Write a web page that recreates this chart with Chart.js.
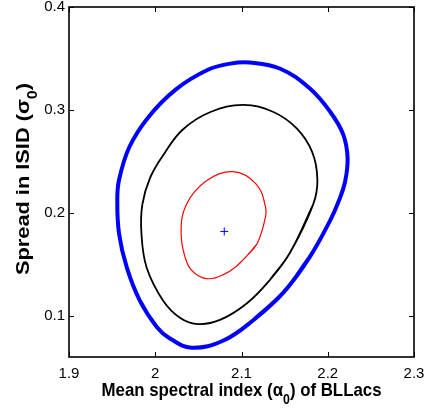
<!DOCTYPE html>
<html>
<head>
<meta charset="utf-8">
<script src="https://cdn.jsdelivr.net/npm/chart.js@4.4.1/dist/chart.umd.min.js"></script>
<style>
html, body { margin: 0; padding: 0; background: #fff; }
</style>
</head>
<body>
<canvas id="contourChart" width="428" height="411"></canvas>
<script>
// contour levels (alpha_0 on x, sigma_0 on y)
// each loop starts and ends on a straight stretch so the join doesn't show
const outerAlpha = [2.149, 2.114, 2.079, 2.042, 2.017, 2.002, 1.982, 1.967, 1.958, 1.956, 1.958, 1.970, 1.992, 2.024, 2.061, 2.087, 2.110, 2.145, 2.179, 2.203, 2.218, 2.223, 2.220, 2.213, 2.203, 2.179, 2.149];
const outerSigma = [0.123, 0.096, 0.076, 0.069, 0.078, 0.089, 0.115, 0.147, 0.180, 0.212, 0.232, 0.264, 0.293, 0.320, 0.339, 0.345, 0.346, 0.340, 0.321, 0.298, 0.276, 0.253, 0.230, 0.212, 0.193, 0.157, 0.123];

const midAlpha = [2.156, 2.133, 2.106, 2.075, 2.050, 2.029, 2.009, 1.990, 1.984, 1.985, 1.994, 2.010, 2.032, 2.064, 2.102, 2.137, 2.164, 2.182, 2.188, 2.183, 2.156];
const midSigma = [0.161, 0.135, 0.112, 0.096, 0.092, 0.098, 0.115, 0.147, 0.180, 0.208, 0.234, 0.257, 0.281, 0.298, 0.305, 0.298, 0.282, 0.259, 0.232, 0.208, 0.161];

const innerAlpha = [2.106, 2.094, 2.079, 2.063, 2.048, 2.037, 2.030, 2.036, 2.059, 2.090, 2.117, 2.128, 2.127, 2.118, 2.106];
const innerSigma = [0.158, 0.148, 0.140, 0.136, 0.140, 0.151, 0.180, 0.208, 0.231, 0.240, 0.228, 0.205, 0.193, 0.170, 0.158];

const bestAlpha = [2.080];
const bestSigma = [0.182];

const xTicks = [1.9, 2.0, 2.1, 2.2, 2.3];
const yTicks = [0.1, 0.2, 0.3, 0.4];

function toPoints(xs, ys) {
    return xs.map((x, i) => ({ x: x, y: ys[i] }));
}

// closed contour: wrap one point on each end so the spline has no corner at the join
function toLoop(xs, ys) {
    const pts = toPoints(xs, ys);
    const n = pts.length;
    return [pts[n - 2]].concat(pts, [pts[1]]);
}

function fmt(v) {
    return String(Math.round(v * 10) / 10);
}

// draws "before" + subscript + "after", centred at the current origin
function drawSubText(ctx, before, sub, after, size, targetWidth) {
    const mainFont = 'bold ' + size + 'px "Liberation Sans", Arial, sans-serif';
    const subFont = 'bold ' + Math.round(size * 0.72) + 'px "Liberation Sans", Arial, sans-serif';
    ctx.font = mainFont;
    const w1 = ctx.measureText(before).width;
    const w3 = ctx.measureText(after).width;
    ctx.font = subFont;
    const w2 = ctx.measureText(sub).width;
    const total = w1 + w2 + w3;
    const sx = targetWidth / total;
    ctx.scale(sx, 1);
    let x = -total / 2;
    ctx.textAlign = 'left';
    ctx.textBaseline = 'alphabetic';
    ctx.fillStyle = '#000';
    ctx.font = mainFont;
    ctx.fillText(before, x, 0);
    x += w1;
    ctx.font = subFont;
    ctx.fillText(sub, x, size * 0.42);
    x += w2;
    ctx.font = mainFont;
    ctx.fillText(after, x, 0);
}

const frameAndTitles = {
    id: 'frameAndTitles',
    afterDraw(chart) {
        const ctx = chart.ctx;
        const a = chart.chartArea;
        const xs = chart.scales.x;
        const ys = chart.scales.y;

        ctx.save();
        ctx.strokeStyle = '#000';
        ctx.lineWidth = 1;
        // inward ticks on all four sides
        xTicks.forEach(v => {
            const px = Math.round(xs.getPixelForValue(v)) + 0.5;
            ctx.beginPath();
            ctx.moveTo(px, a.bottom); ctx.lineTo(px, a.bottom - 5);
            ctx.moveTo(px, a.top); ctx.lineTo(px, a.top + 5);
            ctx.stroke();
        });
        yTicks.forEach(v => {
            const py = Math.round(ys.getPixelForValue(v)) + 0.5;
            ctx.beginPath();
            ctx.moveTo(a.left, py); ctx.lineTo(a.left + 5, py);
            ctx.moveTo(a.right, py); ctx.lineTo(a.right - 5, py);
            ctx.stroke();
        });
        ctx.lineWidth = 1.6;
        ctx.strokeRect(a.left, a.top, a.right - a.left, a.bottom - a.top);
        ctx.restore();

        // x title
        ctx.save();
        ctx.translate((a.left + a.right) / 2, 396);
        drawSubText(ctx, 'Mean spectral index (\u03b1', '0', ') of BLLacs', 19, 280);
        ctx.restore();

        // y title
        ctx.save();
        ctx.translate(29, 179);
        ctx.rotate(-Math.PI / 2);
        drawSubText(ctx, 'Spread in ISID (\u03c3', '0', ')', 19, 192);
        ctx.restore();
    }
};

const ctx = document.getElementById('contourChart').getContext('2d');
const chart = new Chart(ctx, {
    type: 'scatter',
    data: {
        datasets: [{
            data: toLoop(outerAlpha, outerSigma),
            showLine: true,
            borderColor: '#0000ff',
            borderWidth: 4,
            pointRadius: 0,
            tension: 0.4,
            fill: false
        }, {
            data: toLoop(midAlpha, midSigma),
            showLine: true,
            borderColor: '#000000',
            borderWidth: 1.8,
            pointRadius: 0,
            tension: 0.4,
            fill: false
        }, {
            data: toLoop(innerAlpha, innerSigma),
            showLine: true,
            borderColor: '#ff0000',
            borderWidth: 1.2,
            pointRadius: 0,
            tension: 0.4,
            fill: false
        }, {
            data: toPoints(bestAlpha, bestSigma),
            showLine: false,
            pointStyle: 'cross',
            pointRadius: 4,
            borderColor: '#0000ff',
            borderWidth: 1
        }]
    },
    options: {
        responsive: false,
        animation: false,
        devicePixelRatio: 1,
        layout: {
            padding: { top: 7, right: 14, left: 0, bottom: 0 }
        },
        plugins: {
            legend: { display: false },
            tooltip: { enabled: false }
        },
        scales: {
            x: {
                type: 'linear',
                min: 1.9,
                max: 2.3,
                afterBuildTicks: s => { s.ticks = xTicks.map(v => ({ value: v })); },
                afterFit: s => { s.height = 54; s.paddingLeft = 0; s.paddingRight = 0; },
                grid: { display: false, drawTicks: false },
                border: { display: false },
                ticks: {
                    padding: 8,
                    color: '#000',
                    font: { family: '"Liberation Sans", Arial, sans-serif', size: 15 },
                    callback: v => fmt(v)
                }
            },
            y: {
                type: 'linear',
                min: 0.06,
                max: 0.4,
                afterBuildTicks: s => { s.ticks = yTicks.map(v => ({ value: v })); },
                afterFit: s => { s.width = 69; s.paddingTop = 0; s.paddingBottom = 0; },
                grid: { display: false, drawTicks: false },
                border: { display: false },
                ticks: {
                    padding: 4,
                    color: '#000',
                    font: { family: '"Liberation Sans", Arial, sans-serif', size: 15 },
                    callback: v => fmt(v)
                }
            }
        }
    },
    plugins: [frameAndTitles]
});
</script>
</body>
</html>
